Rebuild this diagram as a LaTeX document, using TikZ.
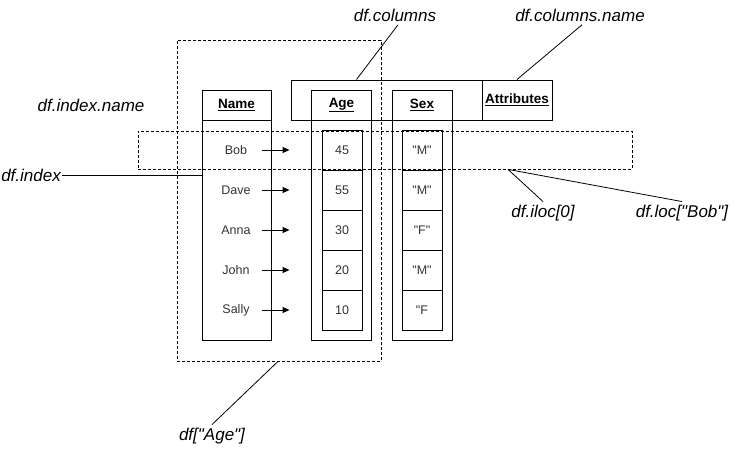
\documentclass[tikz,border=0pt]{standalone}
\usepackage{fontspec}
\newfontfamily\lsans{Liberation Sans}
\usetikzlibrary{positioning,calc,arrows.meta}
\tikzset{
  box/.style={draw, line width=1pt, inner sep=0pt},
  sel/.style={draw, line width=0.8pt, dash pattern=on 3pt off 2pt, inner sep=0pt},
  hdr/.style={font=\lsans\fontsize{13.5}{16}\selectfont\bfseries},
  val/.style={font=\lsans\fontsize{12.5}{15}\selectfont, text=black!80},
  tag/.style={font=\lsans\fontsize{17}{20}\selectfont\itshape},
  lnk/.style={line width=0.8pt},
  ptr/.style={line width=1pt, -{Triangle[length=7pt,width=6pt]}},
}

\begin{document}
\begin{tikzpicture}[x=1pt,y=-1pt]
    \useasboundingbox (0,0) rectangle (752,451);
    % Column bar
    \node[box, minimum width=191pt, minimum height=40pt] (colbar) at (386.5,100) {};
    \node[box, hdr, minimum width=70pt, minimum height=40pt] (attr) at (517,100) {\underline{Attributes}};
    % Name column
    \node[box, hdr, minimum width=69pt, minimum height=30pt] (namehd) at (236.5,105) {\underline{Name}};
    \node[box, minimum width=69pt, minimum height=220pt] (namebody) at (236.5,230) {};
    % Age column
    \node[box, hdr, minimum width=60pt, minimum height=30pt] (agehd) at (341.5,105) {\underline{Age}};
    \node[box, minimum width=60pt, minimum height=220pt] (agebody) at (341.5,230) {};
    % Sex column
    \node[box, hdr, minimum width=60pt, minimum height=30pt] (sexhd) at (422,105) {\underline{Sex}};
    \node[box, minimum width=60pt, minimum height=220pt] (sexbody) at (422,230) {};
    % Rows
    \foreach \nm/\ag/\sx [count=\i] in {Bob/45/"M", Dave/55/"M", Anna/30/"F", John/20/"M", Sally/10/"F}{
        \node[val] (nm\i) at (236,110+40*\i) {\nm};
        \node[box, val, minimum width=40pt, minimum height=40pt] (age\i) at (342,110+40*\i) {\ag};
        \node[box, val, minimum width=40pt, minimum height=40pt] (sex\i) at (422,110+40*\i) {\sx};
        \draw[ptr] ($(nm\i -| namebody.east)+(-10pt,0)$) -- ($(age\i.west)+(-32pt,0)$);
    }
    % Selections
    \node[sel, minimum width=204pt, minimum height=321pt] (agesel) at (279,200.5) {};
    \node[sel, minimum width=494pt, minimum height=38pt] (rowsel) at (385,150) {};
    % Labels
    \node[tag] (idxname) at (91,105) {df.index.name};
    \node[tag, anchor=east, inner sep=1pt] (idx) at (62,175) {df.index};
    \node[tag] (cols) at (395,15) {df.columns};
    \node[tag] (colsname) at (580,15) {df.columns.name};
    \node[tag] (iloc) at (543,213) {df.iloc[0]};
    \node[tag] (loc) at (682,213) {df.loc["Bob"]};
    \node[tag] (agetag) at (212,436) {df["Age"]};
    % Pointers
    \coordinate (rowtap) at ($(rowsel.south)+(123pt,0)$);
    \draw[lnk] (idx.east) -- (idx.east -| namebody.west);
    \draw[lnk] ($(colbar.north west)+(66pt,0)$) -- ($(cols.south)+(3pt,0)$);
    \draw[lnk] (attr.north) -- ($(colsname.south)+(2pt,0)$);
    \draw[lnk] (rowtap) -- (iloc.north);
    \draw[lnk] (rowtap) -- (loc.north);
    \draw[lnk] ($(agesel.south)+(-1pt,0)$) -- (agetag.north);
\end{tikzpicture}
\end{document}
